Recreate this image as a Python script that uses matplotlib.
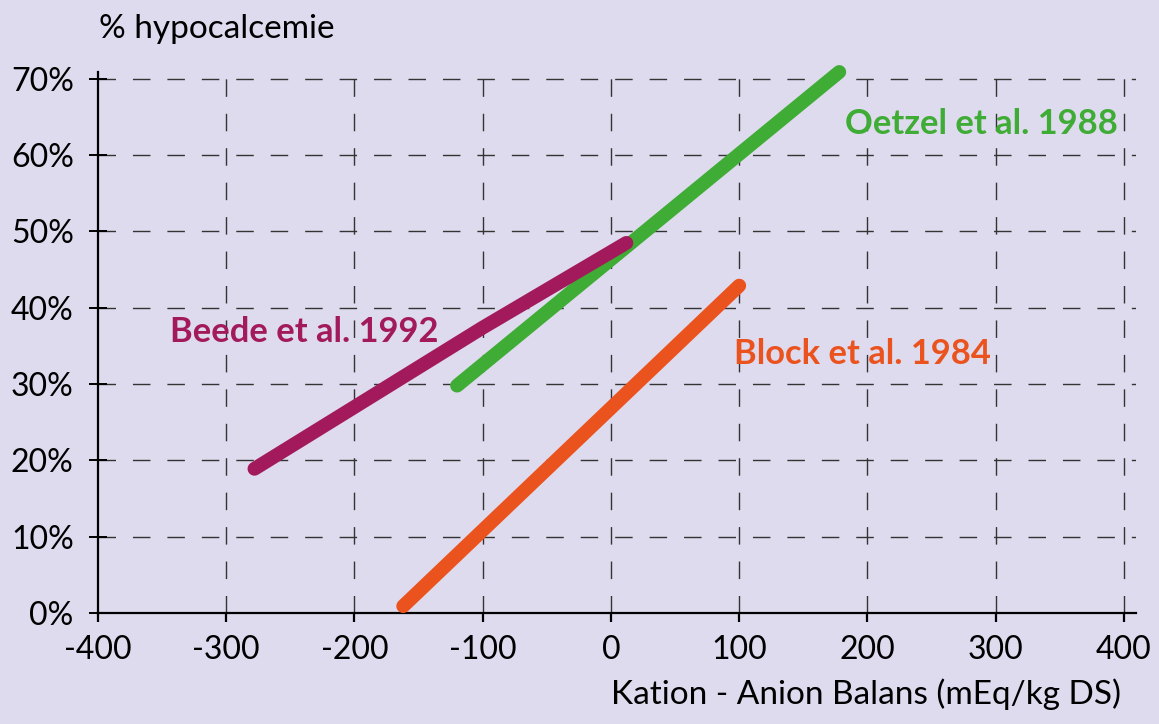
import matplotlib
matplotlib.use("Agg")
import matplotlib.pyplot as plt
from matplotlib.ticker import FuncFormatter

plt.rcParams['font.family'] = ['Lato', 'DejaVu Sans']
plt.rcParams['axes.unicode_minus'] = False
plt.rcParams['lines.scale_dashes'] = False

# Data
beede_x = [-278, -200, -100, 12]
beede_y = [18.9, 27.0, 37.4, 48.5]
oetzel_x = [-120, 178]
oetzel_y = [29.8, 70.9]
block_x = [-162, 100]
block_y = [0.9, 42.9]

x_ticks = [-400, -300, -200, -100, 0, 100, 200, 300, 400]
y_ticks = [0, 10, 20, 30, 40, 50, 60, 70]

bg = '#dedbee'
green = '#3fac35'
magenta = '#a21a5b'
orange = '#ea531e'

fig = plt.figure(figsize=(11.59, 7.24), dpi=100, facecolor=bg)
ax = fig.add_axes([98/1159, 1-613/724, (1136-98)/1159, (613-72)/724])
ax.set_facecolor(bg)

ax.set_xlim(-400, 409.4)
ax.set_ylim(0, 70.9)
ax.set_xticks(x_ticks)
ax.set_yticks(y_ticks)
ax.xaxis.set_major_formatter(FuncFormatter(lambda v, p: '%d' % v))
ax.yaxis.set_major_formatter(FuncFormatter(lambda v, p: '%d%%' % v))

for s in ['top', 'right']:
    ax.spines[s].set_visible(False)
for s in ['left', 'bottom']:
    ax.spines[s].set_linewidth(1.6)
    ax.spines[s].set_color('black')

ax.tick_params(axis='y', direction='inout', length=13, width=1.4, pad=11, labelsize=23)
ax.tick_params(axis='x', direction='out', length=6.5, width=1.6, pad=9, labelsize=23)

gl = dict(color='#333333', linewidth=1.0, linestyle=(0, (12.6, 12.2)))
for yv in y_ticks[1:]:
    ax.axhline(yv, zorder=1, **gl)
for xv in x_ticks[1:]:
    ax.axvline(xv, zorder=1, **gl)

lw = 10
ax.plot(oetzel_x, oetzel_y, color=green, lw=lw, solid_capstyle='round', solid_joinstyle='round', zorder=3, clip_on=False)
ax.plot(beede_x, beede_y, color=magenta, lw=lw, solid_capstyle='round', solid_joinstyle='round', zorder=4, clip_on=False)
ax.plot(block_x, block_y, color=orange, lw=lw, solid_capstyle='round', solid_joinstyle='round', zorder=3, clip_on=False)

lab_fs = 24.8
ax.text(-343.9, 36.8, 'Beede et al. 1992', color=magenta, fontsize=lab_fs, fontweight='bold', va='center', ha='left')
ax.text(182.5, 64.1, 'Oetzel et al. 1988', color=green, fontsize=lab_fs, fontweight='bold', va='center', ha='left')
ax.text(95.9, 33.9, 'Block et al. 1984', color=orange, fontsize=lab_fs, fontweight='bold', va='center', ha='left')

fig.text(99/1159, 1-38/724, '% hypocalcemie', fontsize=24, ha='left', va='baseline')
fig.text(1121/1159, 1-704/724, 'Kation - Anion Balans (mEq/kg DS)', fontsize=24, ha='right', va='baseline')

fig.savefig('out.png', dpi=100, facecolor=bg)
